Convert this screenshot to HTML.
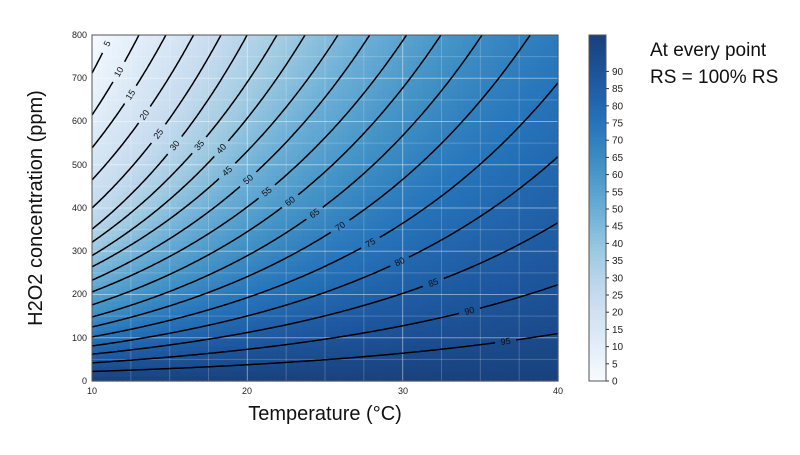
<!DOCTYPE html>
<html><head><meta charset="utf-8"><style>
body{margin:0;background:#fff;width:800px;height:450px;overflow:hidden;font-family:"Liberation Sans",sans-serif}
</style></head><body>
<svg id="s" width="800" height="450" xmlns="http://www.w3.org/2000/svg" font-family="Liberation Sans, sans-serif">
<g id="bg"></g><g id="grid"></g><g id="cont"></g><g id="cb"></g>
<rect x="92" y="35" width="466" height="346" fill="none" stroke="#555" stroke-width="1"/>
<g font-size="9" fill="#222" text-anchor="middle">
<text x="92" y="394">10</text><text x="247" y="394">20</text><text x="403" y="394">30</text><text x="558" y="394">40</text>
</g>
<g font-size="9" fill="#222" text-anchor="end">
<text x="87" y="384">0</text><text x="87" y="341">100</text><text x="87" y="297">200</text><text x="87" y="254">300</text><text x="87" y="211">400</text><text x="87" y="168">500</text><text x="87" y="124">600</text><text x="87" y="81">700</text><text x="87" y="38">800</text>
</g>
<text x="325" y="420" font-size="20" text-anchor="middle" fill="#111">Temperature (°C)</text>
<text transform="translate(42,208) rotate(-90)" font-size="20" text-anchor="middle" fill="#111">H2O2 concentration (ppm)</text>
<text x="650" y="56" font-size="19" fill="#111">At every point</text>
<text x="650" y="83" font-size="19" fill="#111">RS = 100% RS</text>
</svg>
<script>
var NS="http://www.w3.org/2000/svg";
function el(t,a,p){var e=document.createElementNS(NS,t);for(var k in a)e.setAttribute(k,a[k]);p.appendChild(e);return e;}
var stops=[[0,[247,251,255]],[0.125,[222,235,247]],[0.25,[198,219,239]],[0.375,[158,202,225]],[0.5,[107,174,214]],[0.625,[66,146,198]],[0.75,[38,116,186]],[0.875,[30,88,160]],[1,[25,65,125]]];
function cm(v){v=Math.max(0,Math.min(1,v));for(var i=1;i<stops.length;i++){if(v<=stops[i][0]){var a=stops[i-1],b=stops[i],f=(v-a[0])/(b[0]-a[0]);return "rgb("+[0,1,2].map(function(j){return Math.round(a[1][j]+f*(b[1][j]-a[1][j]))}).join(",")+")";}}}
var C10=[810,712,615,539,465,400,351,321,290,264,233,206,176,148,125,102,81,62,42,22,0];
var A=[0.096,0.094,0.087,0.083,0.083,0.0835,0.0825,0.0767,0.074,0.070,0.069,0.067,0.0674,0.0672,0.0658,0.0637,0.0619,0.0592,0.0556,0.0536,0.052];
function Cl(l,T){var i=Math.min(19,Math.floor(l/5)),f=(l-i*5)/5;var c=C10[i]+f*(C10[i+1]-C10[i]),a=A[i]+f*(A[i+1]-A[i]);return c*Math.exp(a*(T-10));}
function RS(T,C){var lo=0,hi=100;for(var k=0;k<25;k++){var m=(lo+hi)/2;if(Cl(m,T)>C)lo=m;else hi=m;}return (lo+hi)/2;}
var x0=92,x1=558,y0=381,y1=35;
function px(T){return x0+(T-10)/30*(x1-x0);}function py(C){return y0-C/800*(y0-y1);}
var bg=document.getElementById("bg"),nx=93,ny=69,dw=(x1-x0)/nx,dh=(y0-y1)/ny;
for(var i=0;i<nx;i++)for(var j=0;j<ny;j++){var T=10+(i+0.5)/nx*30,C=(j+0.5)/ny*800;el("rect",{x:x0+i*dw,y:y0-(j+1)*dh,width:dw+0.6,height:dh+0.6,fill:cm(RS(T,C)/100)},bg);}
var g=document.getElementById("grid");
for(var t=10;t<=40;t+=2.5){var X=px(t),maj=(t%10==0);el("line",{x1:X,x2:X,y1:y1,y2:y0,stroke:"#fff","stroke-opacity":maj?0.45:0.2,"stroke-width":1},g);}
for(var c=0;c<=800;c+=50){var Y=py(c),maj=(c%100==0);el("line",{x1:x0,x2:x1,y1:Y,y2:Y,stroke:"#fff","stroke-opacity":maj?0.45:0.2,"stroke-width":1},g);}
var cg=document.getElementById("cont");
var LX={5:107,10:119,15:131,20:145,25:158,30:175,35:199,40:221,45:227,50:248,55:267,60:290,65:315,70:340,75:370,80:400,85:433,90:470,95:505};
for(var lv=5;lv<=95;lv+=5){
 var pts=[];
 for(var s=0;s<=400;s++){var T=10+s/400*30,C=Cl(lv,T);if(C>800){var Tp=10+(s-1)/400*30,Cp=Cl(lv,Tp);var f=(800-Cp)/(C-Cp);pts.push([px(Tp+f*(T-Tp)),py(800)]);break;}pts.push([px(T),py(C)]);}
 var li=0,bd=1e9;for(var s=0;s<pts.length;s++){var d=Math.abs(pts[s][0]-LX[lv]);if(d<bd){bd=d;li=s;}}
 var lx=pts[li][0],ly=pts[li][1],a=[],b=[];
 pts.forEach(function(p,idx){var d=Math.hypot(p[0]-lx,p[1]-ly);if(d>10){(idx<li?a:b).push(p);}});
 var p1=pts[Math.max(0,li-4)],p2=pts[Math.min(pts.length-1,li+4)];
 var ang=Math.atan2(p2[1]-p1[1],p2[0]-p1[0])*180/Math.PI;
 var tx=el("text",{x:lx,y:ly+3,"font-size":"9","text-anchor":"middle",fill:"#111",transform:"rotate("+ang+" "+lx+" "+ly+")"},cg);tx.textContent=lv;
 [a,b].forEach(function(sg){if(sg.length<2)return;el("path",{d:"M"+sg.map(function(p){return p[0].toFixed(1)+","+p[1].toFixed(1)}).join("L"),fill:"none",stroke:"#000","stroke-width":1.5},cg);});
}
var cb=document.getElementById("cb");
var cy0=381,sc=3.44;
el("rect",{x:589,y:35,width:17,height:10,fill:cm(1)},cb);
for(var i=0;i<100;i++){var yt=Math.max(35,cy0-(i+1)*sc);el("rect",{x:589,y:yt,width:17,height:cy0-i*sc-yt+0.6,fill:cm((i+0.5)/100)},cb);}
el("rect",{x:589,y:35,width:17,height:cy0-35,fill:"none",stroke:"#555"},cb);
for(var v=0;v<=90;v+=5){var Y=cy0-v*sc;el("line",{x1:606,x2:609,y1:Y,y2:Y,stroke:"#333"},cb);var t=el("text",{x:612,y:Y+3.5,"font-size":"10",fill:"#222"},cb);t.textContent=v;}
</script>
</body></html>
